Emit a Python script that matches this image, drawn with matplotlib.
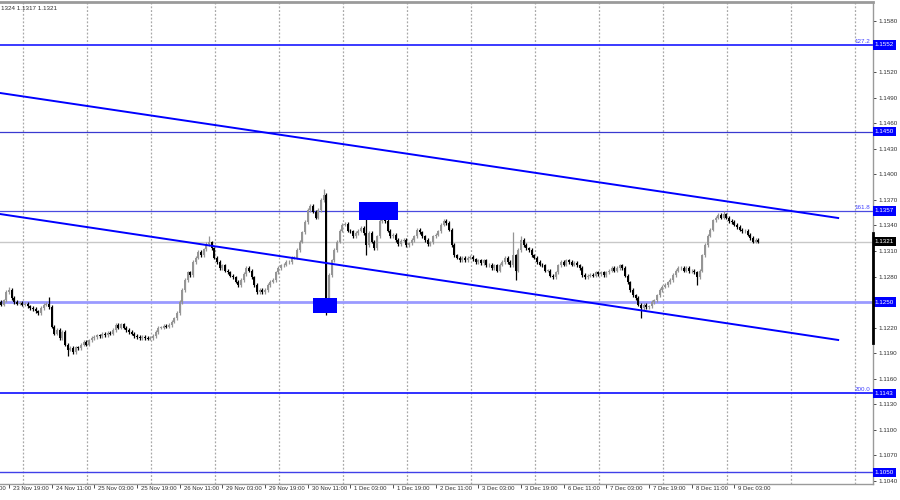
import matplotlib.pyplot as plt
import matplotlib.patches as mpatches
import numpy as np

plt.rcParams['font.family'] = ['Liberation Sans', 'DejaVu Sans']

# EURUSD H1, closes in pips above 1.1000, bar index -3 .. 281
first_bar = -3
first_open = 250
closes = [
    247, 252, 262, 264, 255, 250, 248, 249, 247, 248, 245, 243, 242,
    239, 237, 243, 247, 248, 244, 221, 213, 217, 208,
    215, 200, 194, 196, 191, 197, 196, 200, 203, 200,
    205, 208, 209, 211, 210, 213, 211, 214, 213, 217,
    223, 220, 224, 220, 217, 215, 213, 210, 209, 208,
    209, 208, 207, 208, 210, 215, 220, 220, 222, 221,
    223, 227, 231, 237, 250, 264, 276, 285, 282, 297,
    302, 309, 305, 312, 318, 320, 313, 302, 297, 290,
    293, 287, 285, 281, 279, 274, 270, 276, 283, 290,
    287, 279, 270, 262, 264, 262, 264, 270, 274, 276,
    285, 290, 293, 294, 297, 297, 302, 302, 311, 321,
    332, 344, 358, 363, 356, 349, 358, 370, 376, 249,
    282, 299, 311, 321, 334, 341, 342, 334, 333, 327,
    331, 334, 337, 331, 317, 331, 321, 313, 327, 345,
    353, 345, 334, 327, 329, 323, 318, 322, 323, 317,
    319, 323, 327, 335, 332, 327, 323, 318, 320, 327,
    329, 333, 341, 345, 343, 335, 317, 305, 302, 299,
    302, 299, 302, 303, 300, 297, 299, 296, 299, 293,
    294, 290, 293, 287, 294, 297, 302, 297, 293, 305,
    287, 311, 323, 317, 313, 311, 305, 302, 297, 294,
    293, 287, 287, 281, 279, 285, 293, 297, 294, 299,
    297, 294, 296, 293, 290, 282, 279, 281, 282, 281,
    285, 283, 285, 282, 285, 287, 290, 287, 290, 293,
    290, 281, 273, 264, 258, 255, 247, 243, 247, 244,
    245, 250, 252, 258, 264, 268, 270, 273, 276, 282,
    287, 290, 290, 287, 290, 286, 287, 285, 279, 287,
    305, 317, 328, 335, 346, 349, 352, 349, 353, 349,
    345, 344, 341, 338, 335, 333, 334, 329, 325, 321, 323, 321,
]
# long wicks (bar index -> pips)
wick_highs = {0: 268, 15: 256, 75: 327, 118: 383, 134: 360, 140: 358,
              189: 332, 192: 327, 268: 357}
wick_lows = {22: 187, 119: 235, 134: 305, 190: 276, 237: 231, 258: 270}

# horizontal levels
levels = [1.1552, 1.1450, 1.1357, 1.1250, 1.1143, 1.1050]
level_colors = ['#2b2bff', '#3a3ad0', '#4a4ae0', '#9a9aff', '#2020ff', '#4040e8']
level_widths = [1.3, 0.9, 0.9, 2.0, 1.3, 1.0]
fib_labels = {1.1552: '127.2', 1.1357: '161.8', 1.1143: '200.0'}
bid_price = 1.1321

# channel lines (bar index, price)
upper_channel_k = [-3.4, 310.9]
upper_channel_p = [1.14955, 1.13487]
lower_channel_k = [-3.4, 310.9]
lower_channel_p = [1.13534, 1.12055]

# marked zones (k0, k1, p0, p1)
zones = [(114, 123, 1.12372, 1.12548), (131.2, 145.9, 1.13464, 1.13675)]

time_ticks = list(range(-16, 273, 16))
time_labels = ['23 Nov 03:00', '23 Nov 19:00', '24 Nov 11:00', '25 Nov 03:00',
               '25 Nov 19:00', '26 Nov 11:00', '29 Nov 03:00', '29 Nov 19:00',
               '30 Nov 11:00', '1 Dec 03:00', '1 Dec 19:00', '2 Dec 11:00',
               '3 Dec 03:00', '3 Dec 19:00', '6 Dec 11:00', '7 Dec 03:00',
               '7 Dec 19:00', '8 Dec 11:00', '9 Dec 03:00']

fig = plt.figure(figsize=(9, 5), dpi=100)
ax = fig.add_axes([0, 16 / 500, 873 / 900, 482 / 500])

# candles
c = 1.1 + np.array(closes) / 10000
o = np.concatenate([[1.1 + first_open / 10000], c[:-1]])
k = np.arange(first_bar, first_bar + len(closes))
hi = np.maximum(o, c) + 0.0002
lo = np.minimum(o, c) - 0.0002
for i, kk in enumerate(k):
    if kk in wick_highs:
        hi[i] = 1.1 + wick_highs[kk] / 10000
    if kk in wick_lows:
        lo[i] = 1.1 + wick_lows[kk] / 10000
bull = c >= o
cols = np.where(bull, '#959595', '#000000')
ax.vlines(k, lo, hi, colors=cols, lw=0.9, zorder=3)
body = np.maximum(np.abs(c - o), 0.00005)
ax.bar(k, body, bottom=np.minimum(o, c), width=0.8, color=cols, lw=0, zorder=3)

# grid
for g in np.arange(5.1, 330, 24):
    ax.axvline(g, color='#a8a8a8', lw=0.9, ls=(0, (1.5, 1.5)), zorder=1)

# levels
ax.axhline(bid_price, color='#c8c8c8', lw=1, zorder=2)
for p, col, w in zip(levels, level_colors, level_widths):
    ax.axhline(p, color=col, lw=w, zorder=2)
for p, t in fib_labels.items():
    ax.text(0.997, p + 0.00012, t, transform=ax.get_yaxis_transform(),
            ha='right', va='bottom', fontsize=4.5, color='#4040ff')

# channel
ax.plot(upper_channel_k, upper_channel_p, color='#0000ff', lw=1.4, zorder=4)
ax.plot(lower_channel_k, lower_channel_p, color='#0000ff', lw=1.4, zorder=4)

for k0, k1, p0, p1 in zones:
    ax.add_patch(mpatches.Rectangle((k0, p0), k1 - k0, p1 - p0,
                                    fc='#0000ff', ec='none', zorder=5))

# right price scale
ax.yaxis.tick_right()
yt = np.arange(1.1040, 1.15801, 0.0030)
ax.set_yticks(yt)
hidden = [1.1250, 1.1550]
ax.set_yticklabels(['' if any(abs(v - h) < 1e-6 for h in hidden) else f'{v:.4f}'
                    for v in yt])
ax.tick_params(axis='y', labelsize=4.5, length=2, width=0.6, pad=2,
               colors='#303030')
for p in levels:
    ax.text(1.002, p, f'{p:.4f}', transform=ax.get_yaxis_transform(),
            ha='left', va='center', fontsize=4.5, color='white', clip_on=False,
            bbox=dict(boxstyle='square,pad=0.35', fc='#0000ff', ec='none'))
ax.text(1.002, bid_price, f'{bid_price:.4f}', transform=ax.get_yaxis_transform(),
        ha='left', va='center', fontsize=4.5, color='white', clip_on=False,
        bbox=dict(boxstyle='square,pad=0.35', fc='#000000', ec='none'))
ax.plot([1, 1], [1.12020, 1.13311], transform=ax.get_yaxis_transform(),
        color='black', lw=2, clip_on=False, zorder=6)

# time scale
ax.set_xticks(time_ticks)
ax.set_xticklabels([])
ax.tick_params(axis='x', length=3, width=0.6, colors='#303030')
for kk, t in zip(time_ticks, time_labels):
    ax.annotate(t, xy=(kk, 0), xycoords=('data', 'axes fraction'),
                xytext=(2.8, -3.6), textcoords='offset points', ha='left',
                va='center', fontsize=4.3, color='#303030', annotation_clip=False)

# limits after ticks so set_xticks does not widen them
ax.set_xlim(-3.375, 323.96)
ax.set_ylim(1.10364, 1.16023)

ax.text(0.001, 1 - 6 / 482, '1324 1.1317 1.1321',
        transform=ax.transAxes, fontsize=4.5, color='#303030', va='center')

ax.spines['left'].set_visible(False)
for s in ['top', 'right', 'bottom']:
    ax.spines[s].set_color('#9a9a9a')
    ax.spines[s].set_linewidth(1)
ax.spines['top'].set_linewidth(2)

fig.savefig('out.png', dpi=100)
